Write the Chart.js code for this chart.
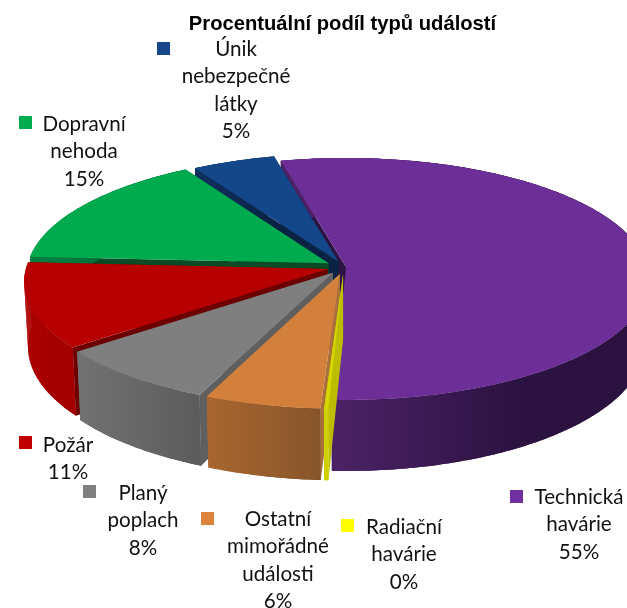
<!DOCTYPE html>
<html><head><meta charset="utf-8">
<style>html,body{margin:0;padding:0;background:#fff}canvas{display:block}</style>
<script src="https://cdn.jsdelivr.net/npm/chart.js@4"></script></head>
<body><canvas id="c" width="627" height="608" style="width:627px;height:608px"></canvas>
<script>
const title = 'Procentuální podíl typů událostí';
const categories = ['Technická havárie','Radiační havárie','Ostatní mimořádné události','Planý poplach','Požár','Dopravní nehoda','Únik nebezpečné látky'];
const values = [54.5,0.2,5.6,8.0,11.4,15.4,4.9];
const labelLines = [['Technická','havárie'],['Radiační','havárie'],['Ostatní','mimořádné','události'],['Planý','poplach'],['Požár'],['Dopravní','nehoda'],['Únik','nebezpečné','látky']];
// styling
const keyColors = ['#7030A0','#FFFF00','#DD843C','#808080','#C00000','#00AC50','#17478A'];
const topColors = ['#6C2E97','#D6D600','#D3803C','#7F7F7F','#B70000','#00AB50','#14478A'];
const radialColors = ['#2E1345','#BDBD00','#A9703A','#5F5F5F','#6C0000','#0A4A25','#0A2345'];
const rimColors = [['#4C2266','#2B1240'],['#D0D000','#D0D000'],['#A9662F','#87552A'],['#727272','#5C5C5C'],['#AC0000','#A20000'],['#008040','#006030'],['#103060','#0A2345']];
const offsets = [0.007,0.06,0.06,0.06,0.056,0.06,0.048];
const paintOrder = [0,6,5,4,3,2,1];
const keyPos = [[510,490],[341,519],[201,512],[83,485],[19,436],[19,116],[157,42]];
const textPos = [[579,497],[404,527],[278,519],[143,493],[68,445],[84,124],[236,49]];
const LINE = 27.6, TEXT_FONT = '20.6px Lato, sans-serif';
const cam = {cx:344,cy:267,A:301.5,B:119.8,k:0.0995,H:64,shrink:0.012};
function proj(X,Y,d){const w=1/(1-cam.k*Y);return [cam.cx+cam.A*X*w*(1-cam.shrink*d),cam.cy+cam.B*Y*w+cam.H*w*d];}
function trace(ctx,pts,start){pts.forEach((p,i)=>{if(i===0&&start)ctx.moveTo(p[0],p[1]);else ctx.lineTo(p[0],p[1]);});}
const pie3d = {
  id:'pie3d',
  beforeDatasetDraw(chart){
    const ctx=chart.ctx, arcs=chart.getDatasetMeta(0).data;
    paintOrder.forEach(i=>{
      const el=arcs[i], R=el.outerRadius, off=el.options.offset/R;
      const a0=el.startAngle,a1=el.endAngle,mid=(a0+a1)/2;
      const ox=Math.cos(mid)*off, oy=Math.sin(mid)*off;
      const n=Math.max(4,Math.ceil((a1-a0)*80));
      const rim=d=>{const p=[];for(let j=0;j<=n;j++){const a=a0+(a1-a0)*j/n;p.push(proj(ox+Math.cos(a),oy+Math.sin(a),d));}return p;};
      const top=rim(0),bot=rim(1),c0=proj(ox,oy,0),c1=proj(ox,oy,1);
      ctx.save();
      ctx.fillStyle=radialColors[i];
      [[top[0],bot[0]],[top[n],bot[n]]].forEach(e=>{ctx.beginPath();ctx.moveTo(c0[0],c0[1]);ctx.lineTo(e[0][0],e[0][1]);ctx.lineTo(e[1][0],e[1][1]);ctx.lineTo(c1[0],c1[1]);ctx.closePath();ctx.fill();});
      const front=top.filter(p=>p[1]>cam.cy);
      const xs=(front.length?front:top).map(p=>p[0]);
      const g=ctx.createLinearGradient(Math.min(...xs),0,Math.max(...xs),0);
      if(i===0){g.addColorStop(0,rimColors[i][0]);g.addColorStop(0.6,rimColors[i][1]);g.addColorStop(1,rimColors[i][1]);}
      else{g.addColorStop(0,rimColors[i][0]);g.addColorStop(1,rimColors[i][1]);}
      ctx.fillStyle=g;
      // whole band first, then one quad per step so the fold at the far left is filled too
      ctx.beginPath();trace(ctx,top,true);trace(ctx,bot.slice().reverse(),false);ctx.closePath();ctx.fill();
      for(let j=0;j<n;j++){
        ctx.beginPath();ctx.moveTo(top[j][0],top[j][1]);ctx.lineTo(top[j+1][0],top[j+1][1]);ctx.lineTo(bot[j+1][0],bot[j+1][1]);ctx.lineTo(bot[j][0],bot[j][1]);ctx.closePath();ctx.fill();
      }
      ctx.fillStyle=el.options.backgroundColor;ctx.beginPath();ctx.moveTo(c0[0],c0[1]);trace(ctx,top,false);ctx.closePath();ctx.fill();
      ctx.restore();
    });
    return false;
  },
  afterDraw(chart){
    const ctx=chart.ctx;ctx.save();
    ctx.fillStyle='#000';ctx.textAlign='center';ctx.textBaseline='middle';
    ctx.font='bold 20.2px "Liberation Sans", Arial, sans-serif';
    ctx.fillText(title,342.5,24);
    ctx.font=TEXT_FONT;
    categories.forEach((c,i)=>{
      ctx.fillStyle=keyColors[i];ctx.fillRect(keyPos[i][0],keyPos[i][1],13,13);
      ctx.fillStyle='#111';
      const lines=labelLines[i].concat([Math.round(values[i])+'%']);
      lines.forEach((t,j)=>ctx.fillText(t,textPos[i][0],textPos[i][1]+j*LINE));
    });
    ctx.restore();
  }
};
new Chart(document.getElementById('c'),{
  type:'pie',
  data:{labels:categories,datasets:[{data:values,backgroundColor:topColors,borderWidth:0,offset:offsets.map(o=>o*250)}]},
  options:{responsive:false,animation:false,rotation:-13.7,radius:250,events:[],
    plugins:{legend:{display:false},tooltip:{enabled:false},title:{display:false}}},
  plugins:[pie3d]
});
</script></body></html>
